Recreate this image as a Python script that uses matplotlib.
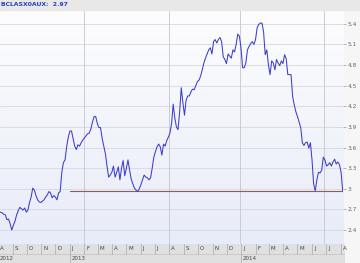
import matplotlib
matplotlib.use("Agg")
import matplotlib.pyplot as plt
import matplotlib.dates as mdates
from matplotlib.colors import LinearSegmentedColormap
import pandas as pd
import numpy as np

title = "BCLASX0AUX:  2.97"
last_price = 2.97
line_start = "2013-01-01"

# twice-weekly closes
prices = [
    2.66, 2.65, 2.63, 2.62, 2.55, 2.56, 2.49, 2.40, 2.47, 2.53,
    2.62, 2.68, 2.73, 2.71, 2.69, 2.72, 2.66, 2.69, 2.80, 2.88,
    3.01, 2.98, 2.90, 2.84, 2.81, 2.80, 2.82, 2.84, 2.88, 2.91,
    2.96, 2.94, 2.87, 2.90, 2.88, 2.84, 2.94, 2.96, 3.24, 3.38,
    3.42, 3.61, 3.75, 3.84, 3.84, 3.73, 3.62, 3.57, 3.64, 3.62,
    3.67, 3.71, 3.74, 3.77, 3.80, 3.81, 3.87, 3.97, 4.05, 4.05,
    3.95, 3.89, 3.89, 3.73, 3.62, 3.51, 3.33, 3.17, 3.20, 3.24,
    3.33, 3.17, 3.24, 3.32, 3.13, 3.30, 3.41, 3.19, 3.30, 3.42,
    3.27, 3.14, 3.07, 3.01, 2.98, 2.96, 3.00, 3.06, 3.13, 3.20,
    3.17, 3.16, 3.13, 3.16, 3.30, 3.46, 3.54, 3.61, 3.65, 3.61,
    3.49, 3.65, 3.62, 3.70, 3.75, 3.81, 3.95, 4.23, 4.03, 3.90,
    3.86, 4.12, 4.47, 4.25, 4.07, 4.29, 4.35, 4.35, 4.41, 4.45,
    4.44, 4.50, 4.56, 4.58, 4.64, 4.73, 4.83, 4.90, 4.96, 5.02,
    5.05, 4.96, 5.14, 5.17, 5.12, 5.17, 5.20, 5.14, 4.92, 4.88,
    4.82, 4.96, 4.93, 4.90, 5.02, 4.99, 5.10, 5.25, 5.22, 5.05,
    4.76, 4.76, 4.83, 5.02, 5.07, 5.11, 5.14, 5.10, 5.17, 5.34,
    5.39, 5.41, 5.41, 5.28, 4.95, 5.02, 4.80, 4.66, 4.86, 4.83,
    4.73, 4.88, 4.83, 4.79, 4.86, 4.82, 4.95, 4.89, 4.66, 4.66,
    4.66, 4.34, 4.22, 4.12, 4.05, 3.97, 3.89, 3.67, 3.63, 3.67,
    3.68, 3.59, 3.67, 3.42, 3.07, 2.97, 3.13, 3.24, 3.23, 3.27,
    3.46, 3.42, 3.33, 3.35, 3.38, 3.33, 3.39, 3.43, 3.36, 3.39,
    3.35, 3.24, 2.97,
]
dates = pd.date_range("2012-08-06", periods=len(prices), freq="83h")

yticks = [2.4, 2.7, 3.0, 3.3, 3.6, 3.9, 4.2, 4.5, 4.8, 5.1, 5.4]
ytick_labels = ["2.4", "2.7", "3", "3.3", "3.6", "3.9", "4.2", "4.5", "4.8", "5.1", "5.4"]
vgrid_dates = ["2013-02-01", "2013-08-01", "2014-01-01", "2014-07-01"]
month_letters = ["J", "F", "M", "A", "M", "J", "J", "A", "S", "O", "N", "D"]
year_starts = ["2012-08-01", "2013-01-01", "2014-01-01"]

xmin = pd.Timestamp("2012-08-05")
xmax = pd.Timestamp("2014-08-10")
ylo, yhi = 2.196, 5.60

fig = plt.figure(figsize=(3.6, 2.63), dpi=100)
fig.patch.set_facecolor("#f6f6f6")

# header strip
fig.patches.append(plt.Rectangle((0, 0.962), 1, 0.038, transform=fig.transFigure,
                                 color="#e8e8e8", zorder=0))
fig.text(0.004, 0.981, title, fontsize=4.4, color="#2b3fbf", fontweight="bold",
         va="center", ha="left")

ax = fig.add_axes([0, 0.072, 0.953, 0.89])
# soft white-to-blue background
bg = LinearSegmentedColormap.from_list("bg", ["#e8ecf8", "#fdfdfe"])
ax.imshow(np.linspace(0, 1, 100).reshape(-1, 1), cmap=bg, aspect="auto",
          origin="lower", extent=[mdates.date2num(xmin), mdates.date2num(xmax), ylo, yhi],
          zorder=0)
ax.plot(dates, prices, color="#3d3dc8", lw=0.75, zorder=3)
ax.plot([pd.Timestamp(line_start), xmax], [last_price, last_price],
        color="#8c5e58", lw=0.8, zorder=2)

ax.set_xlim(xmin, xmax)
ax.set_ylim(ylo, yhi)
ax.set_yticks(yticks)
ax.set_yticklabels(ytick_labels)
ax.yaxis.tick_right()
ax.tick_params(axis="y", length=2, width=0.5, color="#999999", labelsize=4.2,
               labelcolor="#666666", pad=1)
ax.set_xticks([])
for y in yticks:
    ax.axhline(y, color="#d6d8de", lw=0.6, zorder=1)
for d in vgrid_dates:
    ax.axvline(pd.Timestamp(d), color="#c4c6cc", lw=0.6, zorder=1)
for s in ax.spines.values():
    s.set_visible(False)

# date strip below
bx = fig.add_axes([0, 0, 0.958, 0.072])
bx.set_facecolor("#e0e0e0")
bx.set_xlim(xmin, xmax)
bx.set_ylim(0, 2)
bx.set_xticks([])
bx.set_yticks([])
for s in bx.spines.values():
    s.set_visible(False)
bx.axhline(1, color="#c8c8c8", lw=0.6)
months = pd.date_range("2012-08-01", "2014-08-01", freq="MS")
for m in months:
    bx.plot([m, m], [1, 2], color="#a8a8a8", lw=0.5)
    bx.text(m + pd.Timedelta(days=4), 1.5, month_letters[m.month - 1], fontsize=4,
            color="#444444", va="center", ha="left")
for y in year_starts:
    t = pd.Timestamp(y)
    bx.plot([t, t], [0, 1], color="#a8a8a8", lw=0.5)
    bx.text(t + pd.Timedelta(days=4), 0.5, str(t.year), fontsize=4,
            color="#444444", va="center", ha="left")

fig.savefig("out.png", dpi=100, facecolor=fig.get_facecolor())
